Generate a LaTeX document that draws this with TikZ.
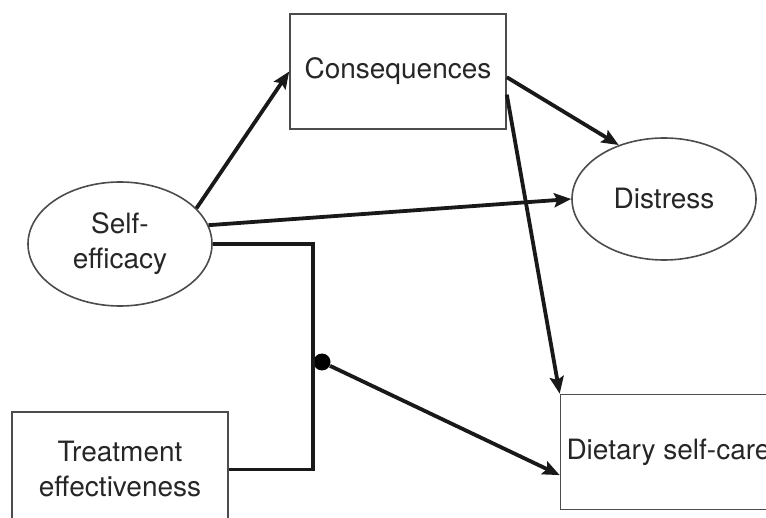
\documentclass[tikz,border=0pt]{standalone}
\usepackage{fontspec}
\setmainfont{TeX Gyre Heros}
\usetikzlibrary{shapes.geometric,arrows.meta}
\begin{document}
\begin{tikzpicture}[x=0.5pt, y=-0.5pt,
    every node/.style={font=\fontsize{14}{17.5}\selectfont, text=black!85, align=center, inner sep=0pt},
    box/.style={draw=black!70, line width=0.8pt, rectangle, minimum width=108pt, minimum height=57.5pt},
    oval/.style={draw=black!70, line width=0.8pt, ellipse, minimum width=92pt, minimum height=62pt},
    link/.style={line width=1.9pt, black!90},
    arrow/.style={link, -{Stealth[length=8.5pt, width=7pt, inset=1.5pt]}}]
  \useasboundingbox (0,0) rectangle (766,518);
  \clip (0,0) rectangle (766,518);

  \node [oval] (self) at (120,244) {Self-\\efficacy};
  \node [box]  (cons) at (398,71.5) {Consequences};
  \node [oval, minimum height=61pt] (dist) at (664,199) {Distress};
  \node [box]  (treat) at (120,469.5) {Treatment\\effectiveness};
  \node [box]  (diet) at (668.5,452) {Dietary self-care};
  \node [circle, fill=black, minimum size=8.5pt] (knot) at (322,362) {};

  \draw [arrow] (self.25) -- (cons.west);
  \draw [arrow] (self.12) -- (dist.west);
  \draw [arrow] (cons.-3) -- (dist.130);
  \draw [arrow] (cons.-12) -- (diet.north west);
  \draw [link] (self.east) -| (knot.west) |- (treat.east);
  \draw [arrow] (knot) -- (diet.192);
\end{tikzpicture}
\end{document}
